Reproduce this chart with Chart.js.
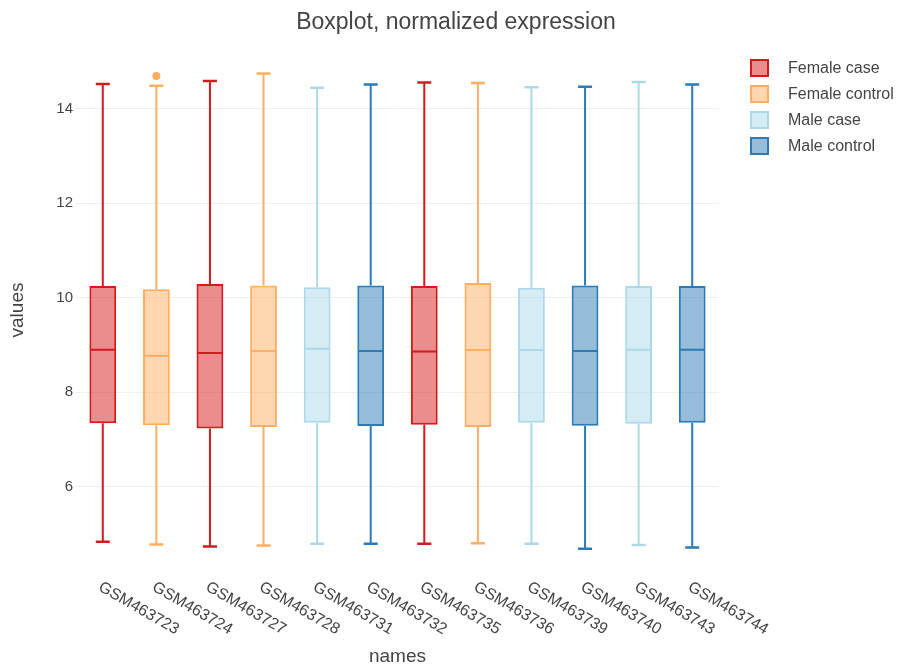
<!DOCTYPE html>
<html>
<head>
<meta charset="utf-8">
<script src="https://cdn.jsdelivr.net/npm/chart.js@4.4.1/dist/chart.umd.min.js"></script>
<style>
  html, body { margin: 0; padding: 0; background: #fff; }
  #wrap { width: 899px; height: 670px; }
</style>
</head>
<body>
<div id="wrap"><canvas id="boxChart" width="899" height="670"></canvas></div>
<script>
const names = ['GSM463723', 'GSM463724', 'GSM463727', 'GSM463728', 'GSM463731', 'GSM463732',
               'GSM463735', 'GSM463736', 'GSM463739', 'GSM463740', 'GSM463743', 'GSM463744'];
const groups = ['Female case', 'Female control', 'Female case', 'Female control', 'Male case', 'Male control',
                'Female case', 'Female control', 'Male case', 'Male control', 'Male case', 'Male control'];
const lowWhisker  = [4.83, 4.77, 4.73, 4.75, 4.79, 4.79, 4.79, 4.80, 4.79, 4.68, 4.76, 4.71];
const q1          = [7.34, 7.30, 7.23, 7.26, 7.35, 7.28, 7.31, 7.26, 7.35, 7.29, 7.33, 7.35];
const median      = [8.90, 8.77, 8.83, 8.87, 8.92, 8.87, 8.86, 8.89, 8.89, 8.87, 8.90, 8.90];
const q3          = [10.25, 10.18, 10.29, 10.26, 10.22, 10.26, 10.25, 10.31, 10.21, 10.26, 10.25, 10.25];
const highWhisker = [14.53, 14.49, 14.59, 14.75, 14.45, 14.52, 14.56, 14.55, 14.46, 14.47, 14.57, 14.52];
const outliers    = [null, 14.70, null, null, null, null, null, null, null, null, null, null];

const groupNames = ['Female case', 'Female control', 'Male case', 'Male control'];
const groupColors = ['#d7191c', '#fdae61', '#abd9e9', '#2c7bb6'];
const groupFills = ['rgba(215,25,28,0.5)', 'rgba(253,174,97,0.5)', 'rgba(171,217,233,0.5)', 'rgba(44,123,182,0.5)'];
const yTicks = [6, 8, 10, 12, 14];

const FONT = '"Liberation Sans", Arial, sans-serif';
const TEXT = '#444';

// one floating-bar dataset per group, boxes go from q1 to q3
const boxSets = groupNames.map((g, k) => ({
  type: 'bar',
  label: g,
  data: names.map((n, i) => groups[i] === g ? [q1[i], q3[i]] : null),
  backgroundColor: groupFills[k],
  borderColor: groupColors[k],
  borderWidth: 2,
  borderSkipped: false,
  grouped: false,
  barPercentage: 0.5,
  categoryPercentage: 1
}));

const outlierSet = {
  type: 'line',
  label: 'outliers',
  data: outliers,
  showLine: false,
  pointRadius: 4,
  pointBorderWidth: 0,
  pointBackgroundColor: names.map((n, i) => groupColors[groupNames.indexOf(groups[i])]),
  borderColor: 'transparent'
};

// whiskers, caps and medians
const whiskers = {
  id: 'whiskers',
  afterDatasetsDraw(chart) {
    const ctx = chart.ctx;
    const x = chart.scales.x, y = chart.scales.y;
    ctx.save();
    names.forEach((n, i) => {
      const k = groupNames.indexOf(groups[i]);
      const bar = chart.getDatasetMeta(k).data[i];
      const cx = x.getPixelForValue(i);
      const half = bar.width / 2;
      const yHi = y.getPixelForValue(highWhisker[i]);
      const yLo = y.getPixelForValue(lowWhisker[i]);
      const yMed = y.getPixelForValue(median[i]);
      ctx.strokeStyle = groupColors[k];
      ctx.lineWidth = 2;
      ctx.beginPath();
      ctx.moveTo(cx, y.getPixelForValue(q3[i]));
      ctx.lineTo(cx, yHi);
      ctx.moveTo(cx, y.getPixelForValue(q1[i]));
      ctx.lineTo(cx, yLo);
      ctx.moveTo(cx - half + 1, yMed);
      ctx.lineTo(cx + half - 1, yMed);
      ctx.stroke();
      ctx.lineWidth = 2.5;
      ctx.beginPath();
      ctx.moveTo(cx - 7, yHi);
      ctx.lineTo(cx + 7, yHi);
      ctx.moveTo(cx - 7, yLo);
      ctx.lineTo(cx + 7, yLo);
      ctx.stroke();
    });
    ctx.restore();
  }
};

// title, axis titles, slanted tick labels and legend
const decorations = {
  id: 'decorations',
  afterDraw(chart) {
    const ctx = chart.ctx;
    const area = chart.chartArea;
    const x = chart.scales.x;
    ctx.save();
    ctx.fillStyle = TEXT;

    ctx.font = '23px ' + FONT;
    ctx.textAlign = 'center';
    ctx.textBaseline = 'middle';
    ctx.fillText('Boxplot, normalized expression', 456, 23);

    ctx.font = '19px ' + FONT;
    ctx.fillText('names', (area.left + area.right) / 2, 657);
    ctx.save();
    ctx.translate(18, (area.top + area.bottom) / 2);
    ctx.rotate(-Math.PI / 2);
    ctx.fillText('values', 0, 0);
    ctx.restore();

    ctx.font = '16px ' + FONT;
    ctx.textAlign = 'left';
    names.forEach((n, i) => {
      ctx.save();
      ctx.translate(x.getPixelForValue(i) - 3, 586);
      ctx.rotate(Math.PI / 6);
      ctx.fillText(n, 0, 0);
      ctx.restore();
    });

    groupNames.forEach((g, k) => {
      const top = 59 + 26 * k;
      ctx.fillStyle = groupFills[k];
      ctx.fillRect(751, top + 1, 17, 16);
      ctx.strokeStyle = groupColors[k];
      ctx.lineWidth = 2;
      ctx.strokeRect(751, top + 1, 17, 16);
      ctx.fillStyle = TEXT;
      ctx.fillText(g, 788, top + 10);
    });
    ctx.restore();
  }
};

new Chart(document.getElementById('boxChart'), {
  data: {
    labels: names,
    datasets: [...boxSets, outlierSet]
  },
  options: {
    responsive: false,
    animation: false,
    layout: { padding: { top: 57, right: 180, left: 0, bottom: 0 } },
    scales: {
      x: {
        type: 'category',
        ticks: { display: false },
        grid: { display: false },
        border: { display: false },
        afterFit: (scale) => { scale.height = 107; }
      },
      y: {
        min: 4.38,
        max: 15.1,
        afterBuildTicks: (scale) => { scale.ticks = yTicks.map(v => ({ value: v })); },
        ticks: { color: TEXT, font: { family: FONT, size: 15 }, padding: 3 },
        grid: { color: '#eeeeee', drawTicks: false },
        border: { display: false },
        afterFit: (scale) => { scale.width = 76; }
      }
    },
    plugins: {
      legend: { display: false },
      tooltip: { enabled: false }
    }
  },
  plugins: [whiskers, decorations]
});
</script>
</body>
</html>
